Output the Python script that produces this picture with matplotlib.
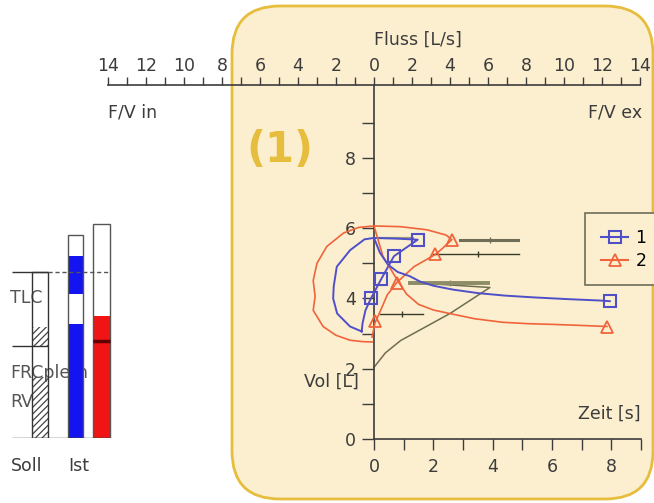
import matplotlib

matplotlib.use("Agg")
import matplotlib.pyplot as plt
from matplotlib.lines import Line2D
from matplotlib.patches import FancyBboxPatch
import numpy as np

# ---------------------------------------------------------------------------
# Data
# ---------------------------------------------------------------------------
# flow-volume loops: flow [L/s] (negative = inspiration), volume [L]
fv1_flow = [-0.65, -1.26, -1.94, -2.15, -2.12, -1.96, -1.26, -0.5, 0.0,
            1.2, 2.3, 1.05, 0.37, -0.16, -0.45, -0.6, -0.65]
fv1_vol = [3.06, 3.2, 3.57, 4.0, 4.34, 4.9, 5.37, 5.68, 5.72,
           5.7, 5.67, 5.2, 4.54, 4.0, 3.66, 3.3, 3.06]
fv2_flow = [-0.1, -0.6, -1.26, -2.0, -2.68, -3.2, -3.1, -3.2, -3.0, -2.48,
            -1.6, -0.8, 0.0, 1.4, 2.8, 3.8, 4.1, 3.6, 3.2, 2.1, 1.2, 0.7,
            0.3, 0.05, -0.1]
fv2_vol = [2.76, 2.77, 2.81, 2.95, 3.2, 3.66, 4.06, 4.51, 5.0, 5.48,
           5.86, 6.02, 6.06, 6.04, 5.95, 5.8, 5.67, 5.42, 5.24, 4.9, 4.45,
           4.1, 3.6, 3.3, 2.9]
# marked points (PEF, MEF75, MEF50, MEF25)
mk1_flow = [2.3, 1.05, 0.37, -0.16]
mk1_vol = [5.67, 5.2, 4.54, 4.0]
mk2_flow = [4.1, 3.2, 1.2, 0.05]
mk2_vol = [5.67, 5.26, 4.43, 3.35]

# volume-time curves: time [s], volume [L]
vt1_t = [0.0, 0.2, 0.47, 0.8, 1.21, 1.55, 2.0, 2.66, 3.5, 4.4, 5.35, 6.5, 7.6, 7.95]
vt1_vol = [5.72, 5.3, 4.96, 4.75, 4.63, 4.48, 4.36, 4.25, 4.15, 4.08, 4.03, 3.98, 3.94, 3.92]
vt2_t = [0.0, 0.3, 0.8, 1.1, 1.5, 2.0, 2.66, 3.4, 4.34, 5.2, 6.03, 7.0, 7.85]
vt2_vol = [6.06, 5.2, 4.5, 4.12, 3.83, 3.67, 3.55, 3.42, 3.32, 3.28, 3.26, 3.23, 3.2]

# predicted curve and predicted ranges (lo, mid, hi) at given volumes
pred_flow = [0.0, 0.6, 1.4, 4.0, 6.1, 2.0]
pred_vol = [2.04, 2.45, 2.8, 3.57, 4.31, 4.45]
rng_vol = [5.65, 5.25, 4.43, 3.57]
rng_lo = [4.5, 3.1, 1.9, 0.3]
rng_mid = [6.1, 5.45, 4.0, 1.47]
rng_hi = [7.6, 7.65, 6.0, 2.57]
rng_lw = [2.2, 1.0, 2.8, 1.0]
rng_col = ["#6e6e58", "#3a3a2a", "#8c8c66", "#3a3a2a"]
tlc_pred_flow = [0.3, 2.05]
tlc_pred_vol = [5.72, 5.72]

# lung volume bars, % of predicted TLC
soll_tlc = 100.0
soll_frc = 55.4
soll_hatch_lo = [0.0, 54.8]
soll_hatch_hi = [36.7, 66.9]
ist1_segments = [68.7, 18.0, 22.9, 12.7]
ist1_colors = ["#1414f0", "white", "#1414f0", "white"]
ist2_segments = [73.5, 55.4]
ist2_colors = ["#f01414", "white"]
ist2_mark = 58.4

BLUE = "#4f4fc8"
RED = "#f0643c"
GOLD = "#e6bd3c"
PANEL = "#fcefd0"
INK = "#3c3c3c"
FS = 12.5

W, H = 654, 503
fig = plt.figure(figsize=(W / 100, H / 100), dpi=100)
plt.rcParams["hatch.linewidth"] = 0.9

# --- background panel (pixel coordinates) ---------------------------------
ax_bg = fig.add_axes([0, 0, 1, 1], zorder=0)
ax_bg.set_xlim(0, W)
ax_bg.set_ylim(H, 0)
ax_bg.axis("off")
ax_bg.add_patch(FancyBboxPatch((232, 6), 421, 493,
                               boxstyle="round,pad=0,rounding_size=48",
                               facecolor=PANEL, edgecolor=GOLD, linewidth=2))
ax_bg.text(280, 150, "(1)", fontsize=30, fontweight="bold", color=GOLD,
           ha="center", va="center")
ax_bg.text(418, 40, "Fluss [L/s]", fontsize=FS, color=INK, ha="center", va="center")
ax_bg.text(108, 112, "F/V in", fontsize=FS, color=INK, ha="left", va="center")
ax_bg.text(642, 112, "F/V ex", fontsize=FS, color=INK, ha="right", va="center")
ax_bg.text(359, 382, "Vol [L]", fontsize=FS, color=INK, ha="right", va="center")
ax_bg.text(641, 414, "Zeit [s]", fontsize=FS, color=INK, ha="right", va="center")
ax_bg.text(11, 466, "Soll", fontsize=FS, color=INK, ha="left", va="center")
ax_bg.text(68, 466, "Ist", fontsize=FS, color=INK, ha="left", va="center")

# --- lung volume bars -------------------------------------------------------
ax_b = fig.add_axes([0, 1 - 438 / H, 120 / W, 220 / H], zorder=1)
ax_b.set_xlim(0, 120)
ax_b.set_ylim(0, 220 / 166 * 100)
ax_b.axis("off")
ax_b.text(10, 84.3, "TLC", fontsize=FS, color="#555555", va="center", zorder=1)
ax_b.text(10, 39.2, "FRCpleth", fontsize=FS, color="#555555", va="center", zorder=1)
ax_b.text(10, 21.7, "RV", fontsize=FS, color="#555555", va="center", zorder=1)
for lo, hi in zip(soll_hatch_lo, soll_hatch_hi):
    ax_b.bar(40, hi - lo, bottom=lo, width=16, fill=False, hatch="/////",
             edgecolor="#444444", linewidth=0, zorder=2)
ax_b.bar(40, soll_tlc, width=16, fill=False, edgecolor="#333333", linewidth=1, zorder=3)
bottom = 0.0
for seg, col in zip(ist1_segments, ist1_colors):
    ax_b.bar(75.5, seg, bottom=bottom, width=15, color=col, linewidth=0, zorder=2)
    bottom += seg
ax_b.bar(75.5, sum(ist1_segments), width=15, fill=False, edgecolor="#555555",
         linewidth=1, zorder=3)
bottom = 0.0
for seg, col in zip(ist2_segments, ist2_colors):
    ax_b.bar(101.5, seg, bottom=bottom, width=17, color=col, linewidth=0, zorder=2)
    bottom += seg
ax_b.bar(101.5, sum(ist2_segments), width=17, fill=False, edgecolor="#555555",
         linewidth=1, zorder=3)
ax_b.hlines(ist2_mark, 93, 110, color="#600000", linewidth=2.5, zorder=4)
ax_b.hlines(0, 12, 110, color="#333333", linewidth=1, zorder=4)
ax_b.hlines(soll_tlc, 12, 48, color="#333333", linewidth=1, zorder=4)
ax_b.hlines(soll_tlc, 48, 110, color="#555555", linewidth=1, linestyles=(0, (3, 2)), zorder=4)
ax_b.hlines(soll_frc, 12, 48, color="#333333", linewidth=1, zorder=4)

# --- flow-volume axes -------------------------------------------------------
y_top = 10.07
ax = fig.add_axes([108 / W, 1 - 439 / H, (640 - 108) / W, (439 - 85) / H], zorder=2)
ax.set_facecolor("none")
ax.set_xlim(-14, 14)
ax.set_ylim(0, y_top)
for s in ("bottom", "right"):
    ax.spines[s].set_visible(False)
ax.spines["left"].set_position(("data", 0))
for s in ("left", "top"):
    ax.spines[s].set_color(INK)
    ax.spines[s].set_linewidth(1.2)
ax.xaxis.set_ticks_position("top")
ax.set_xticks(np.arange(-14, 15, 2))
ax.set_xticklabels([str(abs(v)) for v in range(-14, 15, 2)])
ax.set_xticks(np.arange(-13, 14, 2), minor=True)
ax.tick_params(axis="x", which="both", direction="out", length=6, width=1,
               pad=1, labelsize=FS, colors=INK)
ax.set_yticks([0, 2, 4, 6, 8])
ax.set_yticks([1, 3, 5, 7, 9], minor=True)
ax.tick_params(axis="y", which="both", direction="out", length=9, width=1,
               pad=4, labelsize=FS, colors=INK)

ax.plot(pred_flow, pred_vol, color="#6e6e50", linewidth=1.1, zorder=2)
ax.plot(tlc_pred_flow, tlc_pred_vol, color="#9a9a88", linewidth=1.6, zorder=2)
for v, lo, mid, hi, lw, c in zip(rng_vol, rng_lo, rng_mid, rng_hi, rng_lw, rng_col):
    ax.plot([lo, hi], [v, v], color=c, linewidth=lw, zorder=2)
    ax.plot([mid], [v], marker="|", color=c, markersize=4, zorder=2)

ax.plot(fv2_flow, fv2_vol, color=RED, linewidth=1.2, zorder=3)
ax.plot(fv1_flow, fv1_vol, color=BLUE, linewidth=1.4, zorder=4)
ax.plot(mk2_flow, mk2_vol, linestyle="none", marker="^", markersize=9,
        markerfacecolor="none", markeredgecolor=RED, markeredgewidth=1.3, zorder=5)
ax.plot(mk1_flow, mk1_vol, linestyle="none", marker="s", markersize=9,
        markerfacecolor="none", markeredgecolor=BLUE, markeredgewidth=1.5, zorder=5)

# --- volume-time axes -------------------------------------------------------
ax_t = fig.add_axes([374 / W, 1 - 439 / H, (641 - 374) / W, (439 - 85) / H], zorder=3)
ax_t.set_facecolor("none")
ax_t.set_xlim(0, 9)
ax_t.set_ylim(0, y_top)
for s in ("top", "left", "right"):
    ax_t.spines[s].set_visible(False)
ax_t.spines["bottom"].set_color(INK)
ax_t.spines["bottom"].set_linewidth(1.2)
ax_t.set_yticks([])
ax_t.set_xticks([0, 2, 4, 6, 8])
ax_t.set_xticks([1, 3, 5, 7, 9], minor=True)
ax_t.tick_params(axis="x", which="both", direction="out", length=8, width=1,
                 pad=6, labelsize=FS, colors=INK)

ax_t.plot(vt2_t, vt2_vol, color=RED, linewidth=1.2)
ax_t.plot(vt1_t, vt1_vol, color=BLUE, linewidth=1.4)
ax_t.plot(vt2_t[-1:], vt2_vol[-1:], marker="^", markersize=9, markerfacecolor="none",
          markeredgecolor=RED, markeredgewidth=1.3)
ax_t.plot(vt1_t[-1:], vt1_vol[-1:], marker="s", markersize=9, markerfacecolor="none",
          markeredgecolor=BLUE, markeredgewidth=1.5)

handles = [
    Line2D([], [], color=BLUE, marker="s", markersize=9, markerfacecolor="none",
           markeredgewidth=1.5, label="1"),
    Line2D([], [], color=RED, marker="^", markersize=9, markerfacecolor="none",
           markeredgewidth=1.3, label="2"),
]
leg = ax_t.legend(handles=handles, loc="upper left", bbox_to_anchor=(585 / W, 1 - 213 / H),
                  bbox_transform=fig.transFigure, fontsize=FS, fancybox=False,
                  framealpha=1, facecolor=PANEL, edgecolor="#6e6e58",
                  handlelength=1.6, handletextpad=0.4, labelspacing=0.3,
                  borderpad=0.9, borderaxespad=0)
leg.get_frame().set_linewidth(1.2)

fig.savefig("out.png", dpi=100)
